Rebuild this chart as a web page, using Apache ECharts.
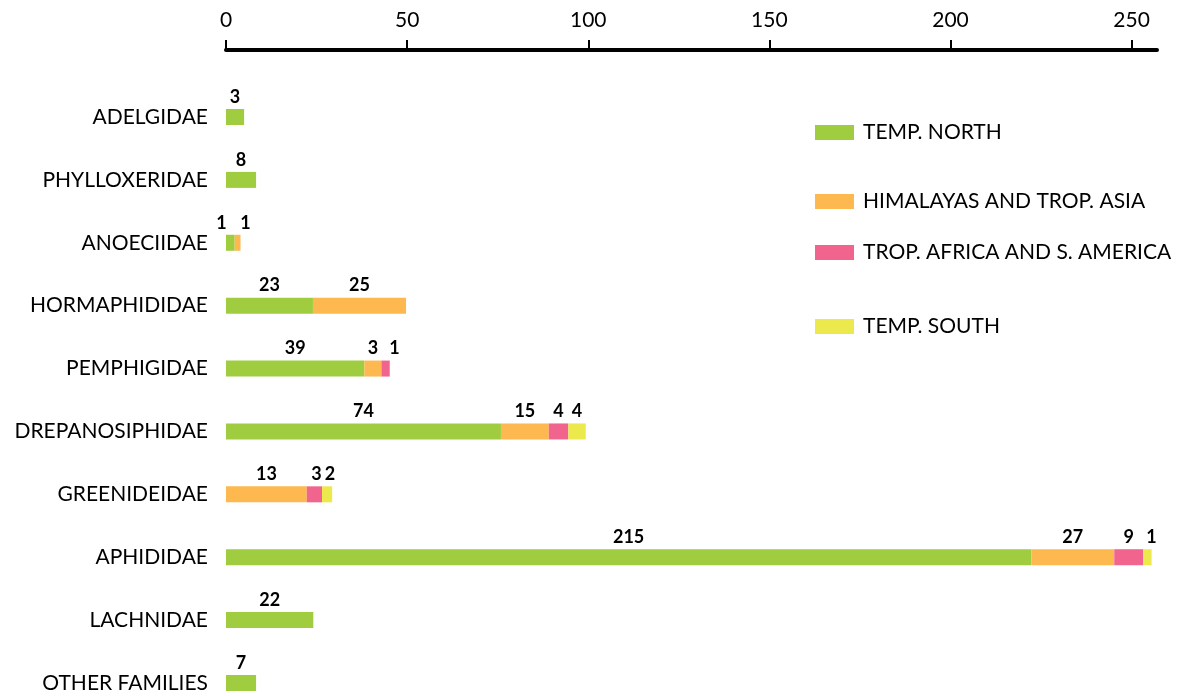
<!DOCTYPE html>
<html>
<head>
<meta charset="utf-8">
<script src="https://cdn.jsdelivr.net/npm/echarts@6/dist/echarts.min.js"></script>
<style>
  html, body { margin: 0; padding: 0; background: #fff; }
  #chart { width: 1191px; height: 696px; }
</style>
</head>
<body>
<div id="chart"></div>
<script>
// families, top to bottom
const families = [
  "ADELGIDAE", "PHYLLOXERIDAE", "ANOECIIDAE", "HORMAPHIDIDAE", "PEMPHIGIDAE",
  "DREPANOSIPHIDAE", "GREENIDEIDAE", "APHIDIDAE", "LACHNIDAE", "OTHER FAMILIES"
];
const regions = [
  "TEMP. NORTH", "HIMALAYAS AND TROP. ASIA", "TROP. AFRICA AND S. AMERICA", "TEMP. SOUTH"
];
// bar lengths as drawn in the picture
const tempNorth = [5.0, 8.3, 2.4, 24.0, 38.2, 75.9, 0, 222.3, 24.1, 8.3];
const himalayas = [0, 0, 1.6, 25.7, 4.7, 13.2, 22.3, 22.9, 0, 0];
const tropAfrica = [0, 0, 0, 0, 2.3, 5.4, 4.2, 8.0, 0, 0];
const tempSouth = [0, 0, 0, 0, 0, 4.8, 2.8, 2.3, 0, 0];
// numbers printed above the segments
const tempNorthLbl = [3, 8, 1, 23, 39, 74, null, 215, 22, 7];
const himalayasLbl = [null, null, 1, 25, 3, 15, 13, 27, null, null];
const tropAfricaLbl = [null, null, null, null, 1, 4, 3, 9, null, null];
const tempSouthLbl = [null, null, null, null, null, 4, 2, 1, null, null];
const tickValues = [0, 50, 100, 150, 200, 250];

const colors = ["#a0cd3f", "#fdb84f", "#f0648e", "#ebe94b"];
const values = [tempNorth, himalayas, tropAfrica, tempSouth];
const labels = [tempNorthLbl, himalayasLbl, tropAfricaLbl, tempSouthLbl];
// nudge a few crowded labels sideways
const labelNudge = { "0-2": -9, "1-2": 8, "2-4": 9, "2-6": 2, "3-6": 3, "3-7": 4 };

const font = "Lato";
const legendTops = [122, 191, 242, 316];

const chart = echarts.init(document.getElementById("chart"));

const series = regions.map((name, s) => ({
  name: name,
  type: "bar",
  stack: "all",
  barWidth: 16,
  itemStyle: { color: colors[s] },
  data: values[s].map((v, i) => {
    const nudge = labelNudge[s + "-" + i];
    if (nudge) return { value: v, label: { offset: [nudge, 0] } };
    return v;
  }),
  label: {
    show: true,
    position: "top",
    distance: 3,
    color: "#000",
    fontFamily: font,
    fontWeight: "bold",
    fontSize: 18,
    formatter: (p) => {
      const t = labels[s][p.dataIndex];
      return t == null ? "" : String(t);
    }
  }
}));

const option = {
  animation: false,
  color: colors,
  legend: regions.map((name, s) => ({
    data: [name],
    orient: "vertical",
    left: 815,
    top: legendTops[s],
    padding: 0,
    icon: "rect",
    itemWidth: 39,
    itemHeight: 15,
    selectedMode: false,
    textStyle: {
      fontFamily: font,
      fontSize: 21,
      color: "#000",
      padding: [0, 0, 0, 4]
    }
  })),
  grid: {
    left: 226,
    right: 34,
    top: 117,
    bottom: 13,
    containLabel: false
  },
  xAxis: {
    type: "value",
    position: "top",
    min: 0,
    max: 257,
    interval: 50,
    offset: 67,
    splitLine: { show: false },
    axisLine: { show: true, lineStyle: { color: "#000", width: 4 } },
    axisTick: {
      show: true,
      length: 10,
      customValues: tickValues,
      lineStyle: { color: "#000", width: 2 }
    },
    axisLabel: {
      customValues: tickValues,
      margin: 19,
      color: "#000",
      fontFamily: font,
      fontSize: 21
    }
  },
  yAxis: {
    type: "category",
    inverse: true,
    boundaryGap: false,
    data: families,
    axisLine: { show: false },
    axisTick: { show: false },
    splitLine: { show: false },
    axisLabel: {
      margin: 18,
      color: "#000",
      fontFamily: font,
      fontSize: 21
    }
  },
  series: series
};

chart.setOption(option);
</script>
</body>
</html>
